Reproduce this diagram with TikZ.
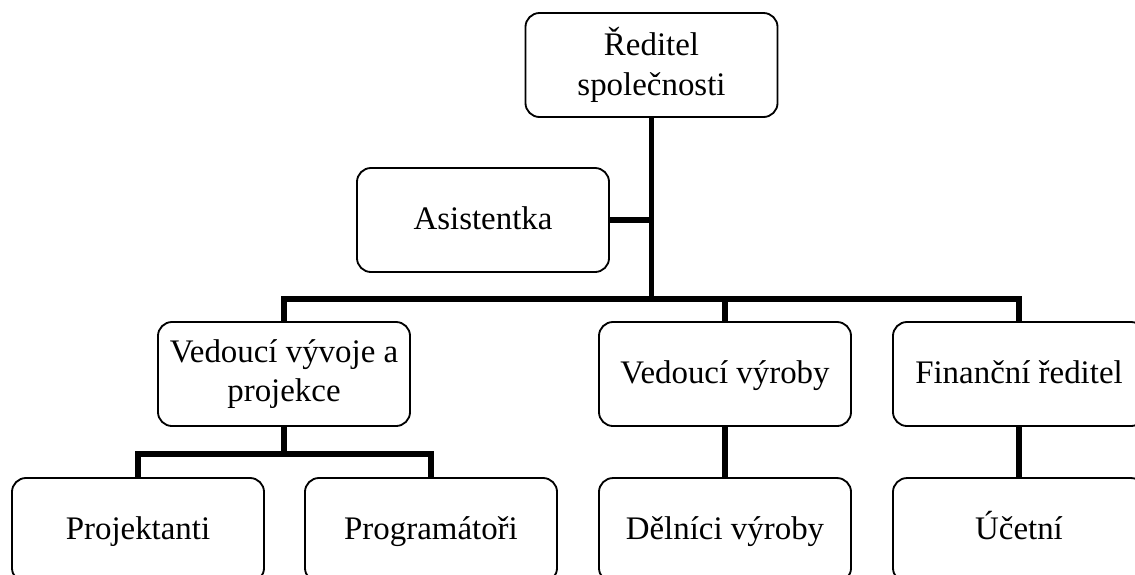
\documentclass[tikz,border=0pt]{standalone}
\usepackage{fontspec}
\setmainfont{Liberation Serif}
\usetikzlibrary{positioning}

\begin{document}
\begin{tikzpicture}[x=0.025cm,y=-0.025cm,node distance=3.9cm,
			box node/.style={rectangle,rounded corners=10pt,draw,line width=1.3pt,minimum width=6.3cm,minimum height=2.6cm,align=center,font=\fontsize{23.4}{28}\selectfont},
			one line/.style={box node,text height=17pt,text depth=3pt},
			conn/.style={line width=3.8pt,line join=miter}]

			\useasboundingbox (0,0) rectangle (1135,574);
			\clip (0,0) rectangle (1135,574);

			\node[box node] (dir) at (651.5,65) {Ředitel\\společnosti};
			\node[one line] (asist) at (483,220) {Asistentka};
			\node[box node] (vyvoj) at (284,374) {Vedoucí vývoje a\\projekce};
			\node[one line] (vyroba) at (725,374) {Vedoucí výroby};
			\node[one line] (fin) at (1019,374) {Finanční ředitel};
			\node[one line] (proj) at (138,530) {Projektanti};
			\node[one line] (prog) at (431,530) {Programátoři};
			\node[one line] (delnici) [below of=vyroba] {Dělníci výroby};
			\node[one line] (ucet) [below of=fin] {Účetní};

			\coordinate (hub) at (651.5,299);
			\coordinate (vhub) at (284,454);

			\draw[conn] (dir) -- (hub);
			\draw[conn] (asist) -- (asist -| hub);
			\draw[conn] (vyvoj) |- (hub) -| (fin);
			\draw[conn] (hub) -| (vyroba);
			\draw[conn] (vyvoj) -- (vhub);
			\draw[conn] (proj) |- (vhub) -| (prog);
			\draw[conn] (vyroba) -- (delnici);
			\draw[conn] (fin) -- (ucet);

		\end{tikzpicture}
\end{document}
